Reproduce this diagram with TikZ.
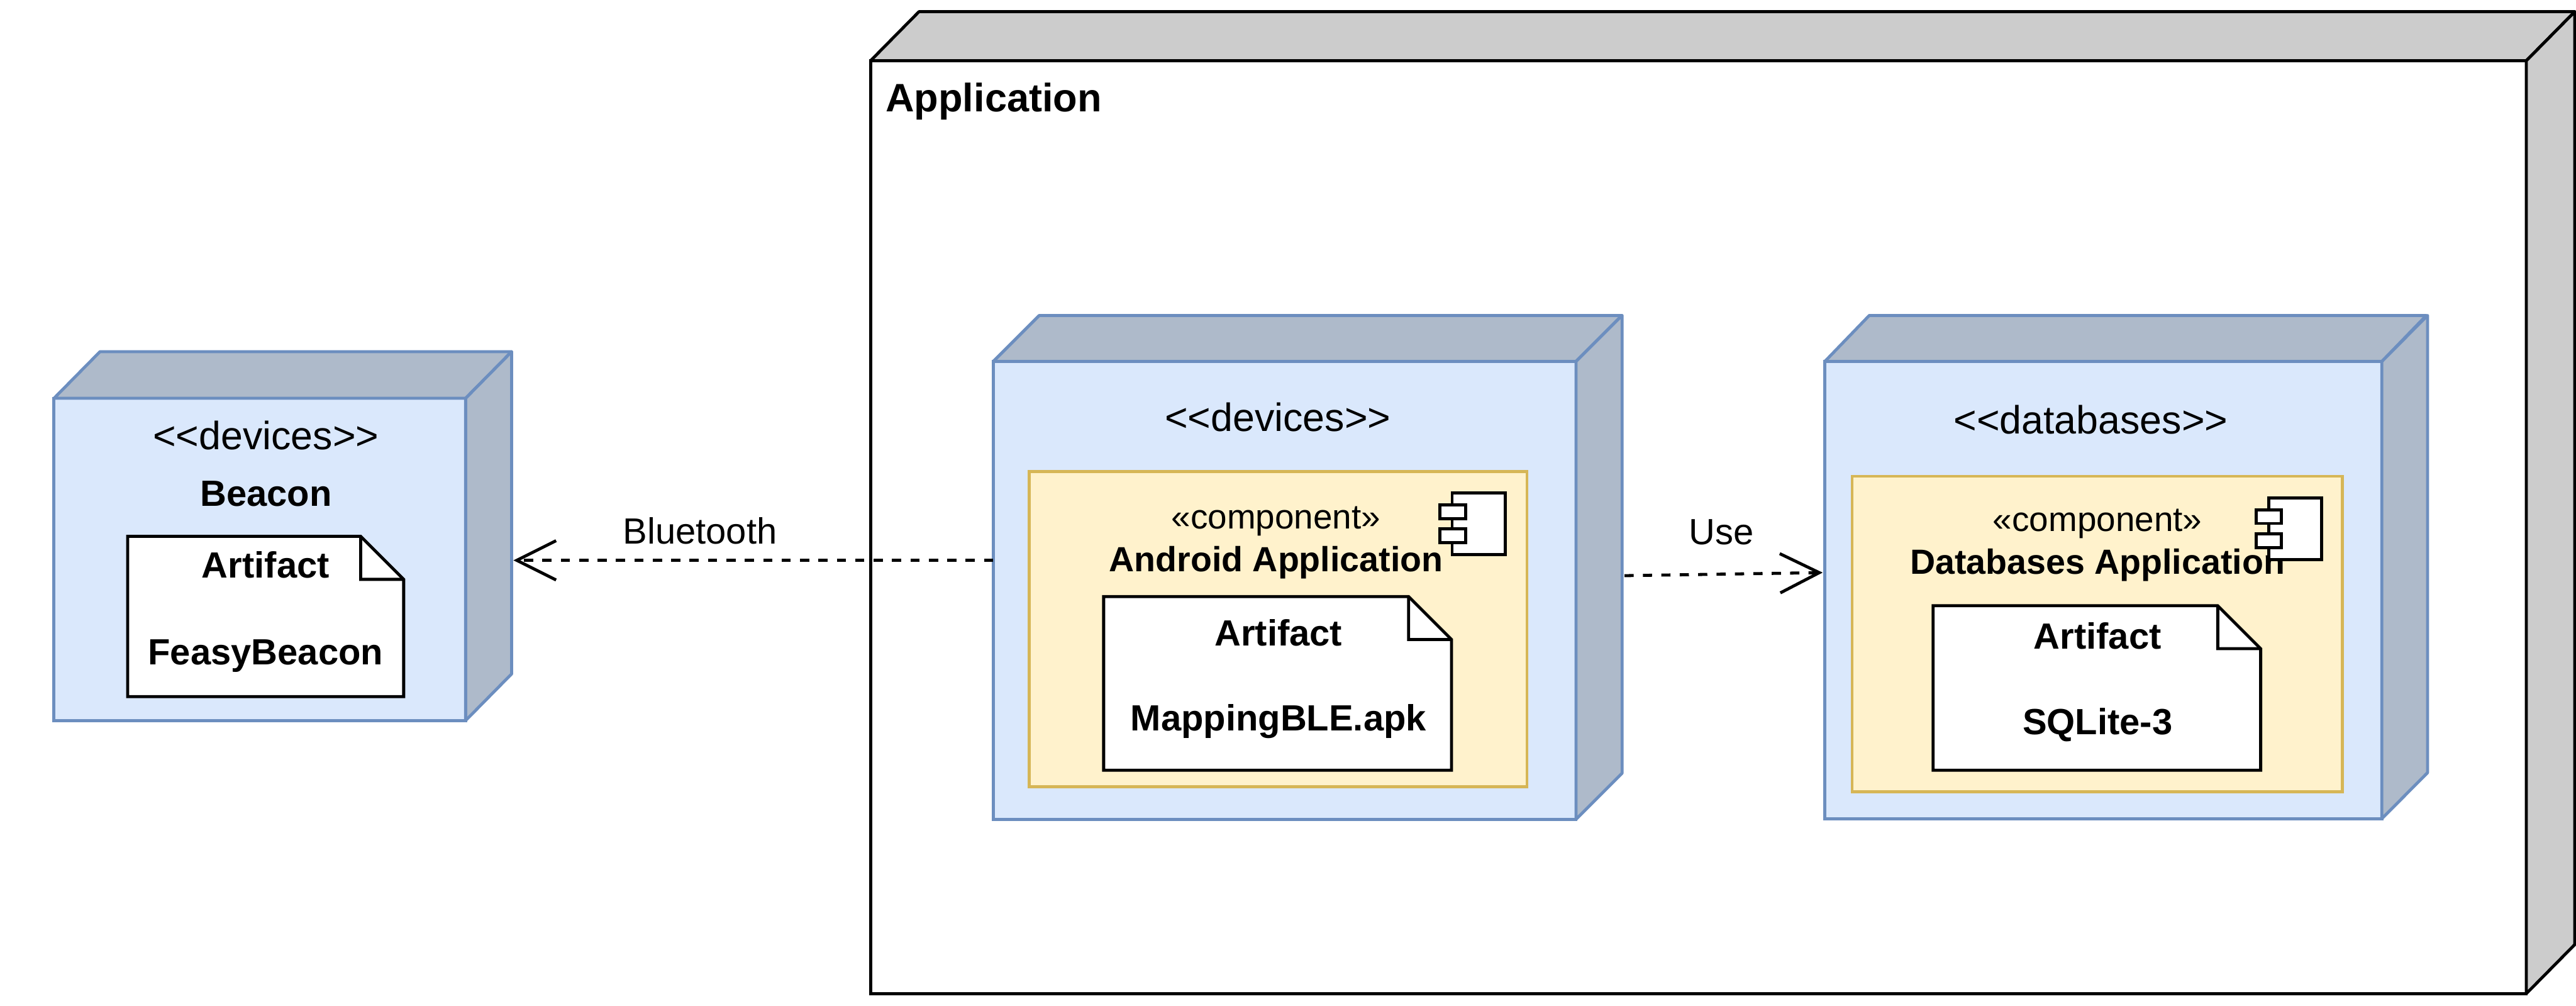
\documentclass[tikz,border=0pt]{standalone}
\usepackage{fontspec}
\setmainfont{Liberation Sans}
\usepackage{xcolor}
\usepackage{tikz}
\usetikzlibrary{positioning, arrows.meta}

\definecolor{nodeblue}{HTML}{DAE8FC}
\definecolor{edgeblue}{HTML}{6C8EBF}
\definecolor{sideblue}{HTML}{AEBACA}
\definecolor{compgold}{HTML}{FFF2CC}
\definecolor{edgegold}{HTML}{D6B656}
\definecolor{sidegray}{HTML}{CCCCCC}

\begin{document}
\begin{tikzpicture}[
        cube/.style={
            rectangle, draw=edgeblue, fill=nodeblue, line width=1.4pt, outer sep=0pt
        },
        compbox/.style={
            rectangle, draw=edgegold, fill=compgold, line width=1.4pt, outer sep=0pt
        },
        blueface/.style={draw=edgeblue, fill=sideblue, line width=1.4pt, line join=round},
        grayface/.style={draw=black, fill=sidegray, line width=1.4pt, line join=round},
        notepath/.style={draw=black, fill=white, line width=1.4pt},
        iconbox/.style={
            rectangle, draw=black, fill=white, line width=1.4pt, outer sep=0pt, inner sep=0pt
        },
        artifact/.style={rectangle, inner sep=0pt, outer sep=0pt},
        stereo/.style={font=\fontsize{18.3}{22}\selectfont, inner sep=0pt},
        title/.style={font=\fontsize{16.9}{20}\selectfont\bfseries, inner sep=0pt},
        compname/.style={font=\fontsize{16.2}{20}\selectfont\bfseries, inner sep=0pt},
        comptag/.style={font=\fontsize{16}{20}\selectfont, inner sep=0pt},
        linklabel/.style={font=\fontsize{16.9}{20}\selectfont, inner sep=0pt},
        arrow/.style={
            line width=1.4pt, dash pattern=on 0.15cm off 0.15cm,
            -{Straight Barb[length=0.64cm, width=0.64cm, line width=1.4pt]}
        }
    ]
        \useasboundingbox (0,0) rectangle (41.99,-16.39);

        % outer node
        \node[cube, draw=black, fill=white, minimum width=26.99cm, minimum height=15.2cm,
            anchor=north west] (app) at (14.19,-0.99) {};
        \filldraw[grayface] (app.north west) -- ++(0.79,0.8) -- ++(26.99,0) -- (app.north east) -- cycle;
        \filldraw[grayface] (app.north east) -- ++(0.79,0.8) -- ++(0,-15.2) -- (app.south east) -- cycle;
        \node[font=\fontsize{18.4}{22}\selectfont\bfseries, inner sep=0pt, anchor=base west]
            (apptitle) at (14.43,-1.82) {Application};

        % beacon
        \node[cube, minimum width=6.71cm, minimum height=5.25cm, anchor=north west]
            (beacon) at (0.88,-6.49) {};
        \filldraw[blueface] (beacon.north west) -- ++(0.75,0.76) -- ++(6.71,0) -- (beacon.north east) -- cycle;
        \filldraw[blueface] (beacon.north east) -- ++(0.75,0.76) -- ++(0,-5.25) -- (beacon.south east) -- cycle;
        \node[stereo, below=0.36cm of beacon.north, xshift=0.1cm] (beacontag) {<{}<devices>{}>};
        \node[title, below=0.5cm of beacontag] (beaconname) {Beacon};

        \node[artifact, minimum width=4.5cm, minimum height=2.61cm, anchor=north west]
            (beaconart) at (2.08,-8.74) {};
        \draw[notepath] (beaconart.north west) -- ([xshift=-0.7cm]beaconart.north east)
            -- ([yshift=-0.7cm]beaconart.north east) -- (beaconart.south east)
            -- (beaconart.south west) -- cycle;
        \draw[notepath, fill=none] ([xshift=-0.7cm]beaconart.north east) -- ++(0,-0.7)
            -- ([yshift=-0.7cm]beaconart.north east);
        \node[title, below=0.24cm of beaconart.north] (beaconartname) {Artifact};
        \node[title, above=0.39cm of beaconart.south] (beaconfile) {FeasyBeacon};

        % android
        \node[cube, minimum width=9.5cm, minimum height=7.46cm, anchor=north west]
            (android) at (16.19,-5.89) {};
        \filldraw[blueface] (android.north west) -- ++(0.75,0.75) -- ++(9.5,0) -- (android.north east) -- cycle;
        \filldraw[blueface] (android.north east) -- ++(0.75,0.75) -- ++(0,-7.46) -- (android.south east) -- cycle;
        \node[stereo] (androidtag) at (20.83,-6.8) {<{}<devices>{}>};
        \node[compbox, minimum width=8.11cm, minimum height=5.14cm, anchor=north west]
            (androidcomp) at (16.78,-7.68) {};
        \node[comptag] (androidcomptag) at (20.8,-8.49) {«component»};
        \node[compname] (androidname) at (20.8,-9.17) {Android Application};

        \node[iconbox, minimum width=0.87cm, minimum height=1.01cm, anchor=north west]
            (androidicon) at (23.67,-8.03) {};
        \node[iconbox, minimum width=0.42cm, minimum height=0.22cm, anchor=north west]
            (androidpina) at (23.47,-8.23) {};
        \node[iconbox, minimum width=0.42cm, minimum height=0.22cm, anchor=north west]
            (androidpinb) at (23.47,-8.62) {};

        \node[artifact, minimum width=5.67cm, minimum height=2.83cm, anchor=north west]
            (androidart) at (17.99,-9.72) {};
        \draw[notepath] (androidart.north west) -- ([xshift=-0.7cm]androidart.north east)
            -- ([yshift=-0.7cm]androidart.north east) -- (androidart.south east)
            -- (androidart.south west) -- cycle;
        \draw[notepath, fill=none] ([xshift=-0.7cm]androidart.north east) -- ++(0,-0.7)
            -- ([yshift=-0.7cm]androidart.north east);
        \node[title] (androidartname) at (20.84,-10.31) {Artifact};
        \node[title] (androidfile) at (20.84,-11.75) {MappingBLE.apk};

        % databases
        \node[cube, minimum width=9.08cm, minimum height=7.45cm, anchor=north west]
            (database) at (29.745,-5.89) {};
        \filldraw[blueface] (database.north west) -- ++(0.725,0.75) -- ++(9.08,0) -- (database.north east) -- cycle;
        \filldraw[blueface] (database.north east) -- ++(0.745,0.75) -- ++(0,-7.45) -- (database.south east) -- cycle;
        \node[stereo] (databasetag) at (34.08,-6.84) {<{}<databases>{}>};
        \node[compbox, minimum width=7.99cm, minimum height=5.14cm, anchor=north west]
            (databasecomp) at (30.19,-7.76) {};
        \node[comptag] (databasecomptag) at (34.19,-8.53) {«component»};
        \node[compname] (databasename) at (34.19,-9.21) {Databases Application};

        \node[iconbox, minimum width=0.86cm, minimum height=1.01cm, anchor=north west]
            (databaseicon) at (36.98,-8.11) {};
        \node[iconbox, minimum width=0.41cm, minimum height=0.22cm, anchor=north west]
            (databasepina) at (36.78,-8.31) {};
        \node[iconbox, minimum width=0.41cm, minimum height=0.22cm, anchor=north west]
            (databasepinb) at (36.78,-8.7) {};

        \node[artifact, minimum width=5.34cm, minimum height=2.68cm, anchor=north west]
            (databaseart) at (31.51,-9.87) {};
        \draw[notepath] (databaseart.north west) -- ([xshift=-0.7cm]databaseart.north east)
            -- ([yshift=-0.7cm]databaseart.north east) -- (databaseart.south east)
            -- (databaseart.south west) -- cycle;
        \draw[notepath, fill=none] ([xshift=-0.7cm]databaseart.north east) -- ++(0,-0.7)
            -- ([yshift=-0.7cm]databaseart.north east);
        \node[title] (databaseartname) at (34.19,-10.36) {Artifact};
        \node[title] (databasefile) at (34.19,-11.81) {SQLite-3};

        % connectors
        \coordinate (beaconport) at (8.37,-9.13);
        \coordinate (androidport) at (26.48,-9.38);
        \coordinate (databaseport) at (29.71,-9.33);
        \draw[arrow] (android.west |- beaconport) -- (beaconport);
        \draw[arrow] (androidport) -- (databaseport);
        \node[linklabel] (bluetooth) at (11.41,-8.65) {Bluetooth};
        \node[linklabel] (use) at (28.06,-8.67) {Use};
\end{tikzpicture}
\end{document}
